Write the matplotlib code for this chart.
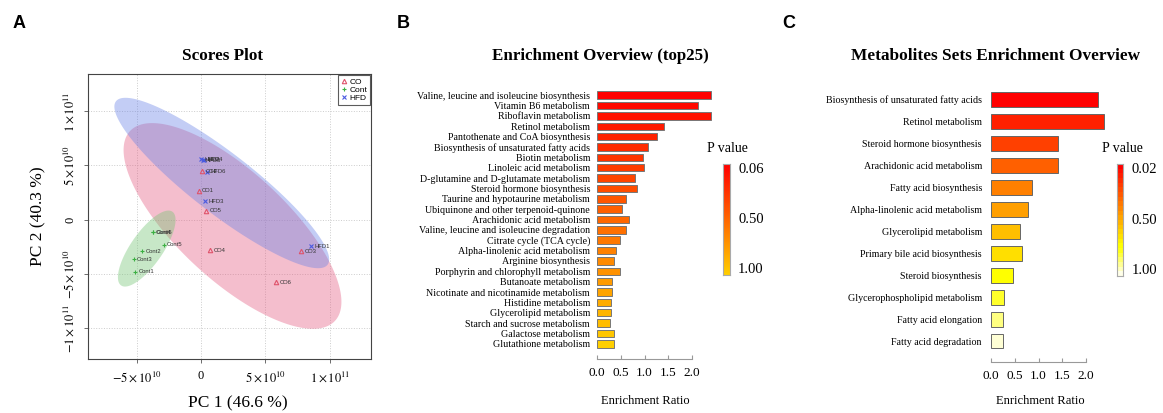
import numpy as np
import matplotlib
matplotlib.use('Agg')
import matplotlib.pyplot as plt
from matplotlib.colors import hsv_to_rgb, ListedColormap
from matplotlib.lines import Line2D

plt.rcParams['font.family'] = ['Liberation Serif', 'DejaVu Serif']
plt.rcParams['mathtext.fontset'] = 'stix'

# ---------------------------------------------------------------- #
#  Data (PC scores in units of 1e10)
# ---------------------------------------------------------------- #
co_names = ['CO1', 'CO2', 'CO3', 'CO4', 'CO5', 'CO6']
co_pc1 = [-0.18, 0.10, 7.79, 0.72, 0.41, 5.85]
co_pc2 = [2.68, 4.47, -2.89, -2.80, 0.83, -5.75]

cont_names = ['Cont1', 'Cont2', 'Cont3', 'Cont4', 'Cont5', 'Cont6']
cont_pc1 = [-5.12, -4.56, -5.23, -3.75, -2.90, -3.70]
cont_pc2 = [-4.80, -2.89, -3.65, -1.17, -2.33, -1.14]

hfd_names = ['HFD1', 'HFD2', 'HFD3', 'HFD4', 'HFD5', 'HFD6']
hfd_pc1 = [8.56, 0.02, 0.29, 0.20, 0.12, 0.50]
hfd_pc2 = [-2.43, 5.57, 1.72, 5.55, 5.50, 4.40]

b_pathways = ['Valine, leucine and isoleucine biosynthesis', 'Vitamin B6 metabolism',
              'Riboflavin metabolism', 'Retinol metabolism',
              'Pantothenate and CoA biosynthesis', 'Biosynthesis of unsaturated fatty acids',
              'Biotin metabolism', 'Linoleic acid metabolism',
              'D-glutamine and D-glutamate metabolism', 'Steroid hormone biosynthesis',
              'Taurine and hypotaurine metabolism', 'Ubiquinone and other terpenoid-quinone',
              'Arachidonic acid metabolism', 'Valine, leucine and isoleucine degradation',
              'Citrate cycle (TCA cycle)', 'Alpha-linolenic acid metabolism',
              'Arginine biosynthesis', 'Porphyrin and chlorophyll metabolism',
              'Butanoate metabolism', 'Nicotinate and nicotinamide metabolism',
              'Histidine metabolism', 'Glycerolipid metabolism',
              'Starch and sucrose metabolism', 'Galactose metabolism',
              'Glutathione metabolism']
b_ratio = [2.40, 2.13, 2.41, 1.41, 1.26, 1.07, 0.96, 0.98, 0.81, 0.85, 0.61, 0.53, 0.67,
           0.61, 0.48, 0.39, 0.35, 0.48, 0.32, 0.32, 0.30, 0.30, 0.27, 0.36, 0.35]
b_pval_labels = ['0.06', '0.50', '1.00']

c_sets = ['Biosynthesis of unsaturated fatty acids', 'Retinol metabolism',
          'Steroid hormone biosynthesis', 'Arachidonic acid metabolism',
          'Fatty acid biosynthesis', 'Alpha-linolenic acid metabolism',
          'Glycerolipid metabolism', 'Primary bile acid biosynthesis',
          'Steroid biosynthesis', 'Glycerophospholipid metabolism',
          'Fatty acid elongation', 'Fatty acid degradation']
c_ratio = [2.25, 2.38, 1.42, 1.40, 0.86, 0.77, 0.62, 0.65, 0.47, 0.27, 0.25, 0.25]
c_pval_labels = ['0.02', '0.50', '1.00']

ratio_ticks = [0.0, 0.5, 1.0, 1.5, 2.0]

# ---------------------------------------------------------------- #
#  helpers
# ---------------------------------------------------------------- #
W, H = 1163, 413
fig = plt.figure(figsize=(W/100., H/100.), dpi=100)


def axes_px(l, t, r, b):
    return fig.add_axes([l/W, 1 - b/H, (r - l)/W, (b - t)/H])


def text_px(x, y, s, **kw):
    fig.text(x/W, 1 - y/H, s, **kw)


def heat_colors(n):
    # same as R's heat.colors(n)
    j = n // 4
    i = n - j
    cols = [hsv_to_rgb((h, 1, 1)) for h in np.linspace(0, 1/6., i)]
    if j > 0:
        cols += [hsv_to_rgb((1/6., s, 1)) for s in np.linspace(1 - 1/(2.*j), 1/(2.*j), j)]
    return cols


def conf_ellipse(x, y, r=2.4477, n=200):
    # 95% normal ellipse around the group
    x = np.asarray(x); y = np.asarray(y)
    vals, vecs = np.linalg.eigh(np.cov(x, y))
    t = np.linspace(0, 2*np.pi, n)
    pts = r * vecs @ (np.sqrt(vals)[:, None] * np.vstack([np.cos(t), np.sin(t)]))
    return x.mean() + pts[0], y.mean() + pts[1]


# ---------------------------------------------------------------- #
#  A: scores plot
# ---------------------------------------------------------------- #
axA = axes_px(88, 74, 371, 359)
axA.set_xlim(-8.77, 13.2)
axA.set_ylim(-12.85, 13.44)

groups = [('CO', co_pc1, co_pc2, co_names, '#DF536B', '#E45D82', '^'),
          ('Cont', cont_pc1, cont_pc2, cont_names, '#3CB043', '#75C575', '+'),
          ('HFD', hfd_pc1, hfd_pc2, hfd_names, '#4A5AE0', '#6982E6', 'x')]

for g, px, py, names, col, fcol, mk in groups:
    ex, ey = conf_ellipse(px, py)
    axA.fill(ex, ey, color=fcol, alpha=0.4, lw=0, zorder=1)

handles = []
for g, px, py, names, col, fcol, mk in groups:
    if mk == '^':
        axA.plot(px, py, ls='none', marker=mk, ms=3.2, mfc='none', mec=col, mew=0.8, zorder=3)
    else:
        axA.plot(px, py, ls='none', marker=mk, ms=3.5, color=col, mew=0.8, zorder=3)
    for nm, x, y in zip(names, px, py):
        axA.annotate(nm, (x, y), xytext=(2.5, 0), textcoords='offset points',
                     fontsize=4.2, va='center', family='Liberation Sans', color='#333333', zorder=4)
    handles.append(Line2D([], [], ls='none', marker=mk, ms=3.2, color=col,
                          mfc='none' if mk == '^' else col, mew=0.8, label=g))

leg = axA.legend(handles=handles, loc='upper right', borderaxespad=0.15, fancybox=False,
                 edgecolor='#333333', handlelength=0.8, handletextpad=0.3,
                 labelspacing=0.05, borderpad=0.3, prop={'family': 'Liberation Sans', 'size': 6})
leg.get_frame().set_linewidth(0.8)

axA.set_xticks([-5, 0, 5, 10])
axA.set_xticklabels([r'$-5\times10^{10}$', '0', r'$5\times10^{10}$', r'$1\times10^{11}$'])
axA.set_yticks([-10, -5, 0, 5, 10])
axA.set_yticklabels([r'$-1\times10^{11}$', r'$-5\times10^{10}$', '0',
                     r'$5\times10^{10}$', r'$1\times10^{11}$'],
                    rotation=90, va='center')
axA.tick_params(labelsize=9, length=3, width=0.6, color='#555555')
axA.tick_params(axis='x', pad=5)
axA.tick_params(axis='y', pad=5)
axA.grid(ls=':', color='#cccccc', lw=0.7)
axA.set_axisbelow(True)
for s in axA.spines.values():
    s.set_color('#444444')
    s.set_linewidth(0.8)

text_px(223, 56, 'Scores Plot', ha='center', va='center', fontsize=12.3, fontweight='bold')
text_px(238, 403, 'PC 1 (46.6 %)', ha='center', va='center', fontsize=12.5)
text_px(38, 216, 'PC 2 (40.3 %)', ha='center', va='center', fontsize=12.5, rotation=90)


# ---------------------------------------------------------------- #
#  bar panels (B and C)
# ---------------------------------------------------------------- #
def bar_panel(l, t, b, names, ratio, colors, label_fs, label_pad, bar_h, edge):
    n = len(names)
    ax = axes_px(l, t, l + 2.5*47.5, b)
    ypos = np.arange(n)
    ax.barh(ypos, ratio, height=bar_h, color=colors, edgecolor=edge, lw=0.7)
    ax.set_xlim(0, 2.5)
    ax.set_ylim(n - 0.5, -0.5)
    for s in ['top', 'right', 'left']:
        ax.spines[s].set_visible(False)
    ax.spines['bottom'].set_position(('outward', 7))
    ax.spines['bottom'].set_bounds(0, 2.0)
    ax.spines['bottom'].set_color('#999999')
    ax.set_xticks(ratio_ticks)
    ax.set_xticklabels(['%.1f' % v for v in ratio_ticks])
    ax.tick_params(axis='x', direction='in', length=3, color='#999999', labelsize=9.5, pad=6)
    ax.set_yticks(ypos)
    ax.set_yticklabels(names)
    ax.tick_params(axis='y', length=0, labelsize=label_fs, pad=label_pad)
    return ax


def colorbar_px(l, t, r, b, colors, labels, lab_x):
    ax = axes_px(l, t, r, b)
    ax.imshow(np.arange(len(colors))[:, None], cmap=ListedColormap(colors),
              aspect='auto', interpolation='nearest')
    ax.set_xticks([]); ax.set_yticks([])
    for s in ax.spines.values():
        s.set_color('#aaaaaa')
        s.set_linewidth(0.8)
    for frac, lab in zip([0.95, 0.5, 0.05], labels):
        ax.text(lab_x, frac, lab, transform=ax.transAxes, ha='left', va='center', fontsize=10.5)
    return ax


# B
b_colors = [hsv_to_rgb((h, 1, 1)) for h in np.linspace(0, 0.135, len(b_ratio))]
bar_panel(597, 90, 349, b_pathways, b_ratio, b_colors, 7.2, 5, 0.72, '#777777')
b_bar_cols = [hsv_to_rgb((h, 1, 1)) for h in np.linspace(0, 0.135, 100)]
colorbar_px(723.3, 164.3, 730, 275, b_bar_cols, b_pval_labels, 2.2)
text_px(600, 56, 'Enrichment Overview (top25)', ha='center', va='center',
        fontsize=12.2, fontweight='bold')
text_px(645, 401, 'Enrichment Ratio', ha='center', va='center', fontsize=9)
text_px(727, 149, 'P value', ha='center', va='center', fontsize=10)

# C
c_colors = heat_colors(len(c_ratio))
bar_panel(991, 88.3, 352, c_sets, c_ratio, c_colors, 7.2, 6.5, 0.68, '#666666')
colorbar_px(1116.7, 164.3, 1123.3, 276, heat_colors(24), c_pval_labels, 2.2)
text_px(996, 56, 'Metabolites Sets Enrichment Overview', ha='center', va='center',
        fontsize=12.4, fontweight='bold')
text_px(1040, 401, 'Enrichment Ratio', ha='center', va='center', fontsize=9)
text_px(1122, 149, 'P value', ha='center', va='center', fontsize=10)

# panel letters
for x, s in [(19, 'A'), (403, 'B'), (789, 'C')]:
    text_px(x, 23, s, ha='center', va='center', fontsize=13, fontweight='bold',
            family='Liberation Sans')

fig.savefig('out.png', dpi=100)
